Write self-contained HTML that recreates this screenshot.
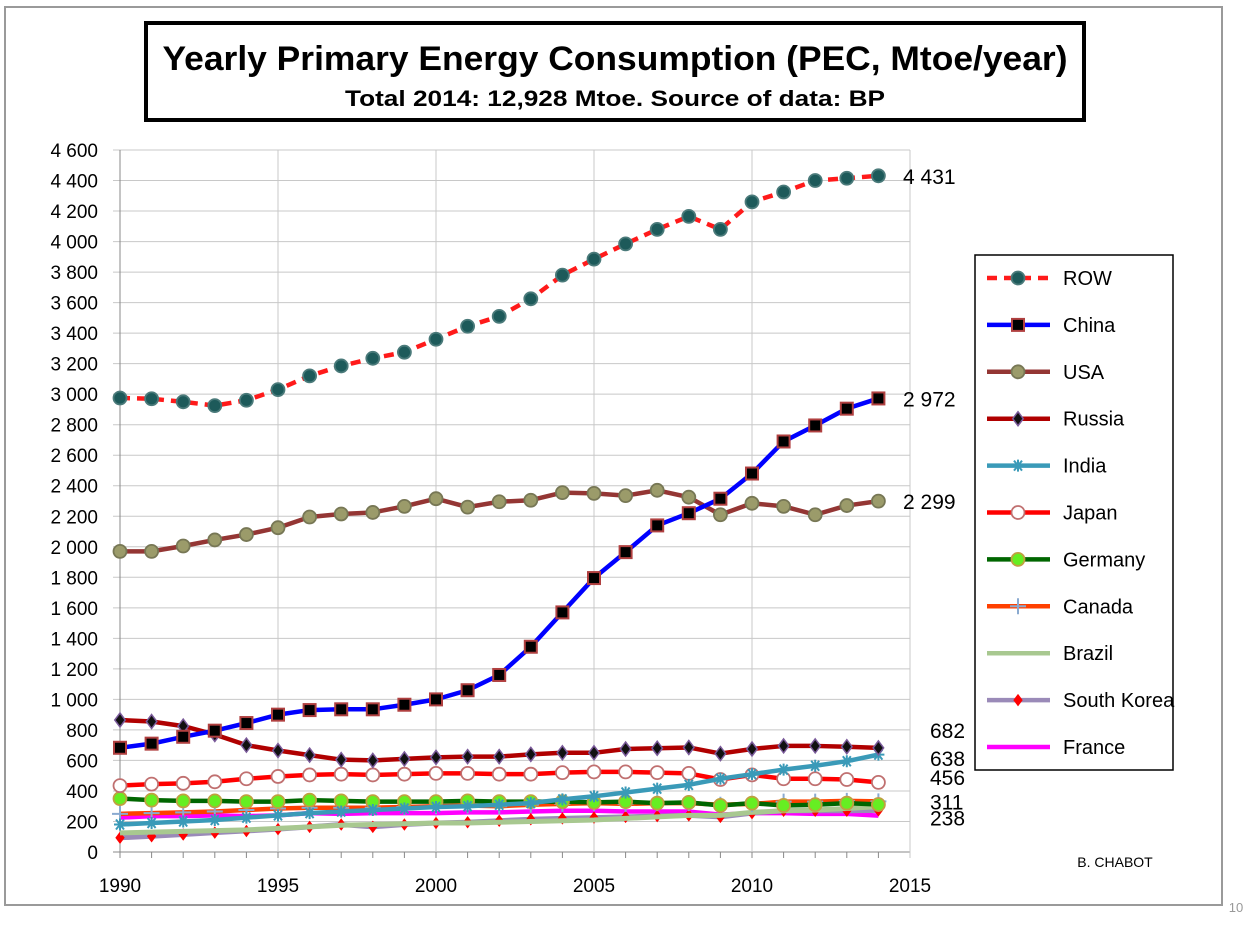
<!DOCTYPE html>
<html><head><meta charset="utf-8"><style>
body{margin:0;background:#fff;}
svg{display:block;font-family:"Liberation Sans",sans-serif;}
</style></head><body>
<svg id="chart" width="1250" height="925">
<rect x="5" y="7" width="1217" height="898" fill="#fff" stroke="#9a9a9a" stroke-width="2"/>
<rect x="146" y="23" width="938" height="97" fill="#fff" stroke="#000" stroke-width="4"/>
<text x="615" y="70" text-anchor="middle" font-size="34" font-weight="bold" textLength="905" lengthAdjust="spacingAndGlyphs">Yearly Primary Energy Consumption (PEC, Mtoe/year)</text>
<text x="615" y="106" text-anchor="middle" font-size="22" font-weight="bold" textLength="540" lengthAdjust="spacingAndGlyphs">Total 2014: 12,928 Mtoe. Source of data: BP</text>
<g id="grid"></g><g id="series"></g><g id="legend"></g>
<text x="1115" y="867" text-anchor="middle" font-size="14">B. CHABOT</text>
<text x="1236" y="912" text-anchor="middle" font-size="13" fill="#999">10</text>
</svg>
<script>
const years=[1990,1991,1992,1993,1994,1995,1996,1997,1998,1999,2000,2001,2002,2003,2004,2005,2006,2007,2008,2009,2010,2011,2012,2013,2014];
const yTicks=[0,200,400,600,800,1000,1200,1400,1600,1800,2000,2200,2400,2600,2800,3000,3200,3400,3600,3800,4000,4200,4400,4600];
const xTicks=[1990,1995,2000,2005,2010,2015];
const ROW=[2975,2970,2950,2925,2960,3030,3120,3185,3235,3275,3360,3445,3510,3625,3780,3885,3985,4080,4165,4080,4260,4325,4400,4415,4431];
const China=[683,710,755,795,845,900,930,935,935,965,1000,1060,1160,1345,1570,1795,1965,2140,2220,2315,2480,2690,2795,2905,2972];
const USA=[1970,1970,2005,2045,2080,2125,2195,2215,2225,2265,2315,2260,2295,2305,2355,2350,2335,2370,2325,2210,2285,2265,2210,2270,2299];
const Russia=[865,855,825,770,700,665,635,605,600,610,620,625,625,640,650,650,675,680,685,645,675,695,695,690,682];
const India=[180,190,200,210,225,240,255,265,275,285,295,300,310,320,345,365,390,415,440,480,510,540,565,595,638];
const Japan=[435,445,450,460,480,495,505,510,505,510,515,515,510,510,520,525,525,520,515,475,505,480,480,475,456];
const Germany=[350,340,335,335,330,330,340,335,330,330,330,335,330,330,330,325,330,320,325,305,320,305,310,320,311];
const Canada=[250,255,260,265,275,285,290,290,290,295,300,305,300,310,315,320,315,320,320,310,315,330,330,335,332];
const Brazil=[125,130,135,140,145,155,165,175,180,185,190,190,195,200,205,210,220,230,240,240,260,270,275,285,297];
const SouthKorea=[93,103,115,127,138,150,165,180,165,180,190,195,205,215,220,225,230,235,240,230,255,270,270,270,273];
const France=[225,235,235,240,235,240,255,250,255,255,255,260,260,265,270,270,265,265,265,245,255,255,250,250,238];
const endLabels=["4 431","2 972","2 299","682","638","456","311","238"];
const endValues=[4431,2972,2299,682,638,456,311,238];
const endLabelY=[4431,2972,2299,800,615,490,330,225];

const NS="http://www.w3.org/2000/svg";
const X=y=>120+(y-1990)*31.6;
const Y=v=>852-v*702/4600;
function mk(tag,at,parent){const e=document.createElementNS(NS,tag);for(const k in at)e.setAttribute(k,at[k]);parent.appendChild(e);return e;}
const fmt=v=>v>=1000?Math.floor(v/1000)+" "+String(v%1000).padStart(3,"0"):String(v);
const grid=document.getElementById('grid');
yTicks.forEach(t=>{
 const l=mk('line',{x1:113,x2:910,y1:Y(t),y2:Y(t),stroke:t===0?'#888':'#c8c8c8','stroke-width':1},grid);
 
 const tx=mk('text',{x:98,y:Y(t)+7,'text-anchor':'end','font-size':19},grid);tx.textContent=fmt(t);
 
});
xTicks.forEach(t=>{
 const l=mk('line',{x1:X(t),x2:X(t),y1:Y(4600),y2:858,stroke:t===1990?'#888':'#c8c8c8','stroke-width':1},grid);
 
 const tx=mk('text',{x:X(t),y:892,'text-anchor':'middle','font-size':19},grid);tx.textContent=t;
 
});
years.forEach(yr=>{const l=mk('line',{x1:X(yr),x2:X(yr),y1:852,y2:858,stroke:'#888'},grid);});

const defs=[
 {n:'ROW',d:ROW,c:'#ff1a1a',dash:'10,7',m:'circle',mf:'#1d5a5a',ms:'#4a7a7a'},
 {n:'China',d:China,c:'#0000ff',m:'square',mf:'#000',ms:'#b04040'},
 {n:'USA',d:USA,c:'#943634',m:'circle',mf:'#9b9b6a',ms:'#777755'},
 {n:'Russia',d:Russia,c:'#b00000',m:'diamond',mf:'#111',ms:'#7a5a9a'},
 {n:'India',d:India,c:'#3a9ab8',m:'star',mf:'none',ms:'#3a9ab8'},
 {n:'Japan',d:Japan,c:'#ff0000',m:'circle',mf:'#fff',ms:'#c07070'},
 {n:'Germany',d:Germany,c:'#006600',m:'circle',mf:'#66ee22',ms:'#c0a040'},
 {n:'Canada',d:Canada,c:'#ff4000',m:'plus',mf:'none',ms:'#8aaad0'},
 {n:'Brazil',d:Brazil,c:'#a8c890',m:'none'},
 {n:'South Korea',d:SouthKorea,c:'#9a8ab8',m:'diamond',mf:'#ff0000',ms:'#ff0000',small:true},
 {n:'France',d:France,c:'#ff00ff',m:'none'}
];
function marker(g,m,x,y,s){
 let e;
 if(m.m==='circle')e=mk('circle',{cx:x,cy:y,r:6.5,fill:m.mf,stroke:m.ms,'stroke-width':1.8},g);
 else if(m.m==='square')e=mk('rect',{x:x-6,y:y-6,width:12,height:12,fill:m.mf,stroke:m.ms,'stroke-width':2},g);
 else if(m.m==='diamond'){const r=m.small?5:7;e=mk('path',{d:`M${x} ${y-r}L${x+r*0.75} ${y}L${x} ${y+r}L${x-r*0.75} ${y}Z`,fill:m.mf,stroke:m.ms,'stroke-width':1.5},g);}
 else if(m.m==='star')e=mk('path',{d:`M${x-6} ${y}H${x+6}M${x-4} ${y-5}L${x+4} ${y+5}M${x+4} ${y-5}L${x-4} ${y+5}M${x} ${y-6}V${y+6}`,stroke:m.ms,'stroke-width':2,fill:'none'},g);
 else if(m.m==='plus')e=mk('path',{d:`M${x-8} ${y}H${x+8}M${x} ${y-8}V${y+8}`,stroke:m.ms,'stroke-width':2,fill:'none'},g);
 return e;
}
const sg=document.getElementById('series');
for(let i=defs.length-1;i>=0;i--){
 const s=defs[i];
 const g=mk('g',{},sg);
 
 
 const p=mk('polyline',{points:s.d.map((v,j)=>X(years[j])+','+Y(v)).join(' '),fill:'none',stroke:s.c,'stroke-width':s.n==='Brazil'||s.n==='South Korea'?5:4.5,'stroke-linejoin':'round'},g);
 if(s.dash)p.setAttribute('stroke-dasharray',s.dash);
 
 
 if(s.m!=='none')s.d.forEach((v,j)=>{const e=marker(g,s,X(years[j]),Y(v));
  
  });
}
endLabels.forEach((t,i)=>{
 const tx=mk('text',{x:i<3?900:930,y:Y(endLabelY[i])+8,'font-size':21,'font-family':'Liberation Sans Narrow, Liberation Sans, sans-serif'},sg);
 if(i<3)tx.setAttribute('x',903);
 tx.textContent=t;
 
 
});
const lg=document.getElementById('legend');
const box=mk('rect',{x:975,y:255,width:198,height:515,fill:'#fff',stroke:'#000','stroke-width':1.5},lg);

defs.forEach((s,i)=>{
 const y=278+i*46.9;
 const g=mk('g',{},lg);
 
 
 const l=mk('line',{x1:987,x2:1050,y1:y,y2:y,stroke:s.c,'stroke-width':4.5},g);
 if(s.dash)l.setAttribute('stroke-dasharray',s.dash);
 if(s.m!=='none')marker(g,s,1018,y);
 const t=mk('text',{x:1063,y:y+7,'font-size':20},g);t.textContent=s.n;
});
</script>
</body></html>
